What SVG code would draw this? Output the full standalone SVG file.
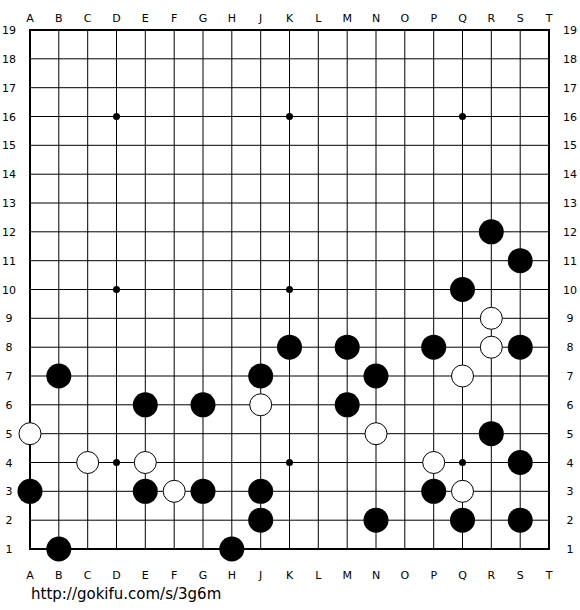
<svg xmlns="http://www.w3.org/2000/svg" xmlns:xlink="http://www.w3.org/1999/xlink" width="580" height="610" viewBox="0 0 580 610">
<style>
.g{stroke:#000;stroke-width:1;fill:none}
.b{fill:#000}
.w{fill:#fff;stroke:#000;stroke-width:1}
.l{font-family:"DejaVu Sans",Verdana,sans-serif;font-size:11px;fill:#000;text-anchor:middle}
.u{font-family:"DejaVu Sans",Verdana,sans-serif;font-size:15px;fill:#000}
</style>
<rect width="580" height="610" fill="#fff"/>
<g id="board">
<path class="g" d="M30 58.8H549M30 87.7H549M30 116.5H549M30 145.3H549M30 174.2H549M30 203H549M30 231.8H549M30 260.7H549M30 289.5H549M30 318.3H549M30 347.2H549M30 376H549M30 404.8H549M30 433.7H549M30 462.5H549M30 491.3H549M30 520.2H549"/>
<path class="g" d="M58.8 30V549M87.7 30V549M116.5 30V549M145.3 30V549M174.2 30V549M203 30V549M231.8 30V549M260.7 30V549M289.5 30V549M318.3 30V549M347.2 30V549M376 30V549M404.8 30V549M433.7 30V549M462.5 30V549M491.3 30V549M520.2 30V549"/>
<rect x="30" y="30" width="519" height="519" fill="none" stroke="#000" stroke-width="2"/>
<g class="b">
<circle cx="116.5" cy="116.5" r="3.5"/><circle cx="289.5" cy="116.5" r="3.5"/><circle cx="462.5" cy="116.5" r="3.5"/>
<circle cx="116.5" cy="289.5" r="3.5"/><circle cx="289.5" cy="289.5" r="3.5"/><circle cx="462.5" cy="289.5" r="3.5"/>
<circle cx="116.5" cy="462.5" r="3.5"/><circle cx="289.5" cy="462.5" r="3.5"/><circle cx="462.5" cy="462.5" r="3.5"/>
</g>
</g>
<g id="labels">
<g class="l">
<text x="30" y="22">A</text><text x="58.8" y="22">B</text><text x="87.7" y="22">C</text><text x="116.5" y="22">D</text><text x="145.3" y="22">E</text><text x="174.2" y="22">F</text><text x="203" y="22">G</text><text x="231.8" y="22">H</text><text x="260.7" y="22">J</text><text x="289.5" y="22">K</text><text x="318.3" y="22">L</text><text x="347.2" y="22">M</text><text x="376" y="22">N</text><text x="404.8" y="22">O</text><text x="433.7" y="22">P</text><text x="462.5" y="22">Q</text><text x="491.3" y="22">R</text><text x="520.2" y="22">S</text><text x="549" y="22">T</text>
<text x="30" y="579">A</text><text x="58.8" y="579">B</text><text x="87.7" y="579">C</text><text x="116.5" y="579">D</text><text x="145.3" y="579">E</text><text x="174.2" y="579">F</text><text x="203" y="579">G</text><text x="231.8" y="579">H</text><text x="260.7" y="579">J</text><text x="289.5" y="579">K</text><text x="318.3" y="579">L</text><text x="347.2" y="579">M</text><text x="376" y="579">N</text><text x="404.8" y="579">O</text><text x="433.7" y="579">P</text><text x="462.5" y="579">Q</text><text x="491.3" y="579">R</text><text x="520.2" y="579">S</text><text x="549" y="579">T</text>
</g>
<g class="l">
<text x="9" y="34">19</text><text x="9" y="62.8">18</text><text x="9" y="91.7">17</text><text x="9" y="120.5">16</text><text x="9" y="149.3">15</text><text x="9" y="178.2">14</text><text x="9" y="207">13</text><text x="9" y="235.8">12</text><text x="9" y="264.7">11</text><text x="9" y="293.5">10</text><text x="9" y="322.3">9</text><text x="9" y="351.2">8</text><text x="9" y="380">7</text><text x="9" y="408.8">6</text><text x="9" y="437.7">5</text><text x="9" y="466.5">4</text><text x="9" y="495.3">3</text><text x="9" y="524.2">2</text><text x="9" y="553">1</text>
<text x="570" y="34">19</text><text x="570" y="62.8">18</text><text x="570" y="91.7">17</text><text x="570" y="120.5">16</text><text x="570" y="149.3">15</text><text x="570" y="178.2">14</text><text x="570" y="207">13</text><text x="570" y="235.8">12</text><text x="570" y="264.7">11</text><text x="570" y="293.5">10</text><text x="570" y="322.3">9</text><text x="570" y="351.2">8</text><text x="570" y="380">7</text><text x="570" y="408.8">6</text><text x="570" y="437.7">5</text><text x="570" y="466.5">4</text><text x="570" y="495.3">3</text><text x="570" y="524.2">2</text><text x="570" y="553">1</text>
</g>
<text class="u" x="31" y="599">http://gokifu.com/s/3g6m</text>
</g>
<g id="black-stones" class="b">
<circle cx="491.3" cy="231.8" r="12.5"/>
<circle cx="520.2" cy="260.7" r="12.5"/>
<circle cx="462.5" cy="289.5" r="12.5"/>
<circle cx="289.5" cy="347.2" r="12.5"/>
<circle cx="347.2" cy="347.2" r="12.5"/>
<circle cx="433.7" cy="347.2" r="12.5"/>
<circle cx="520.2" cy="347.2" r="12.5"/>
<circle cx="58.8" cy="376" r="12.5"/>
<circle cx="260.7" cy="376" r="12.5"/>
<circle cx="376" cy="376" r="12.5"/>
<circle cx="145.3" cy="404.8" r="12.5"/>
<circle cx="203" cy="404.8" r="12.5"/>
<circle cx="347.2" cy="404.8" r="12.5"/>
<circle cx="491.3" cy="433.7" r="12.5"/>
<circle cx="520.2" cy="462.5" r="12.5"/>
<circle cx="30" cy="491.3" r="12.5"/>
<circle cx="145.3" cy="491.3" r="12.5"/>
<circle cx="203" cy="491.3" r="12.5"/>
<circle cx="260.7" cy="491.3" r="12.5"/>
<circle cx="433.7" cy="491.3" r="12.5"/>
<circle cx="260.7" cy="520.2" r="12.5"/>
<circle cx="376" cy="520.2" r="12.5"/>
<circle cx="462.5" cy="520.2" r="12.5"/>
<circle cx="520.2" cy="520.2" r="12.5"/>
<circle cx="58.8" cy="549" r="12.5"/>
<circle cx="231.8" cy="549" r="12.5"/>
</g>
<g id="white-stones" class="w">
<circle cx="491.3" cy="318.3" r="11"/>
<circle cx="491.3" cy="347.2" r="11"/>
<circle cx="462.5" cy="376" r="11"/>
<circle cx="260.7" cy="404.8" r="11"/>
<circle cx="30" cy="433.7" r="11"/>
<circle cx="376" cy="433.7" r="11"/>
<circle cx="87.7" cy="462.5" r="11"/>
<circle cx="145.3" cy="462.5" r="11"/>
<circle cx="433.7" cy="462.5" r="11"/>
<circle cx="174.2" cy="491.3" r="11"/>
<circle cx="462.5" cy="491.3" r="11"/>
</g>
</svg>
